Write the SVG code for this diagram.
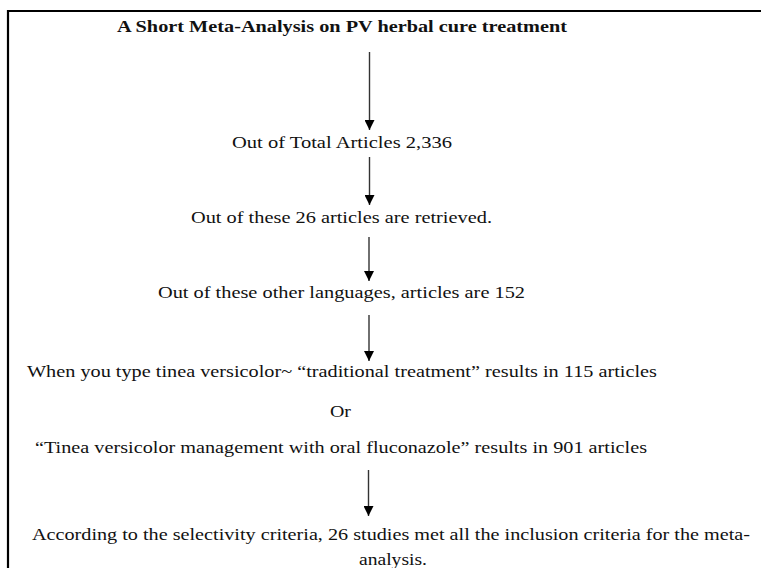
<svg xmlns="http://www.w3.org/2000/svg" width="761" height="568" viewBox="0 0 761 568">
<style>
.t{font-family:"Liberation Serif","Times New Roman",serif;font-size:17.5px;fill:#111;}
.b{font-weight:bold;}
.c{stroke:#333;stroke-width:1.4;fill:none;marker-end:url(#ah);}
.frame{stroke:#000;stroke-width:2.2;fill:none;}
</style>
<defs>
<marker id="ah" markerUnits="userSpaceOnUse" markerWidth="12" markerHeight="10" viewBox="0 0 12 10" refX="10" refY="5" orient="auto">
<path d="M0,0 L10,5 L0,10 Z" fill="#000"/>
</marker>
</defs>
<rect width="761" height="568" fill="#fff"/>
<path class="frame" d="M8,568 V11 H761"/>
<g id="connectors">
<line class="c" x1="369.5" y1="52" x2="369.5" y2="130"/>
<line class="c" x1="369.5" y1="157" x2="369.5" y2="205"/>
<line class="c" x1="369" y1="237" x2="369" y2="281"/>
<line class="c" x1="369" y1="315" x2="369" y2="361"/>
<line class="c" x1="368.5" y1="470" x2="368.5" y2="516"/>
</g>
<g id="title"><text class="t b" x="117" y="32" textLength="450" lengthAdjust="spacingAndGlyphs">A Short Meta-Analysis on PV herbal cure treatment</text></g>
<g id="n1"><text class="t" x="232" y="148" textLength="220" lengthAdjust="spacingAndGlyphs">Out of Total Articles 2,336</text></g>
<g id="n2"><text class="t" x="191" y="223" textLength="301" lengthAdjust="spacingAndGlyphs">Out of these 26 articles are retrieved.</text></g>
<g id="n3"><text class="t" x="158" y="298" textLength="367" lengthAdjust="spacingAndGlyphs">Out of these other languages, articles are 152</text></g>
<g id="n4">
<text class="t" x="27" y="377" textLength="630" lengthAdjust="spacingAndGlyphs">When you type tinea versicolor~ “traditional treatment” results in 115 articles</text>
<text class="t" x="330" y="417" textLength="21" lengthAdjust="spacingAndGlyphs">Or</text>
<text class="t" x="35" y="453" textLength="612" lengthAdjust="spacingAndGlyphs">“Tinea versicolor management with oral fluconazole” results in 901 articles</text>
</g>
<g id="n5">
<text class="t" x="32" y="540" textLength="718" lengthAdjust="spacingAndGlyphs">According to the selectivity criteria, 26 studies met all the inclusion criteria for the meta-</text>
<text class="t" x="359" y="565" textLength="68" lengthAdjust="spacingAndGlyphs">analysis.</text>
</g>
</svg>
